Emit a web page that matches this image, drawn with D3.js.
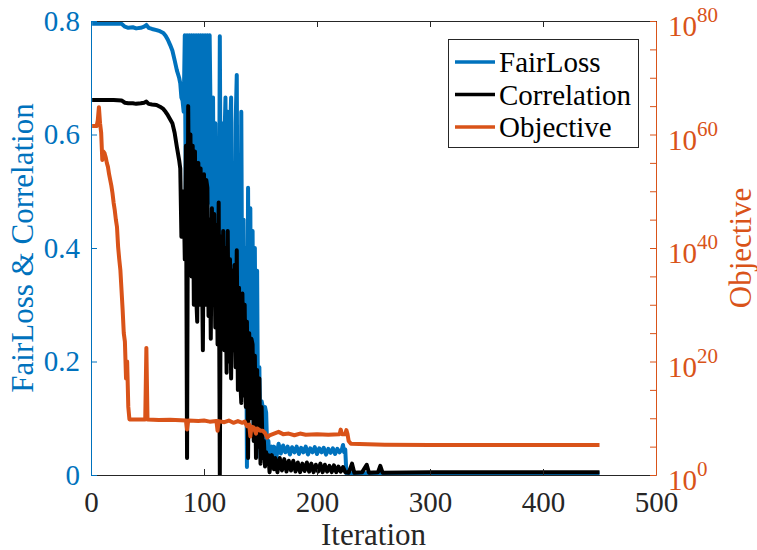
<!DOCTYPE html>
<html>
<head>
<meta charset="utf-8">
<script src="https://cdn.jsdelivr.net/npm/d3@7"></script>
<style>
  body { margin: 0; background: #fff; }
  svg { display: block; }
</style>
</head>
<body>
<svg width="757" height="550"></svg>
<script>
// values: [iteration, value]
var fairLoss = [
  [1,.795],[10,.795],[20,.795],[27,.795],[30,.790],[33,.788],[37,.789],[40,.787],[44,.788],[47,.790],
  [49,.793],[51,.788],[54,.786],[58,.784],[61,.782],[64,.779],[66,.774],[68,.767],[70,.758],[72,.748],
  [74,.731],[76,.713],[78,.700],[79,.690],[80,.665],[81,.66],
  [82,.64],[83,.775],[84,.45],[85,.775],[86,.60],[87,.775],[88,.42],[89,.775],[90,.50],[91,.775],
  [92,.55],[93,.775],[94,.38],[95,.775],[96,.45],[97,.775],[98,.35],[99,.775],[100,.52],[101,.775],
  [102,.40],[103,.775],[104,.48],[105,.775],[106,.60],[107,.40],[108,.665],[109,.30],[110,.62],[111,.35],
  [112,.55],[113,.28],[114,.773],[115,.35],[116,.62],[117,.30],[118,.58],[119,.665],[120,.25],[121,.64],
  [122,.30],[123,.60],[124,.665],[125,.22],[126,.55],[127,.26],[128,.62],[129,.705],[130,.22],[131,.50],
  [132,.18],[133,.64],[134,.20],[135,.45],[136,.16],[137,.40],[138,.014],[139,.506],[140,.12],[141,.47],
  [142,.10],[143,.43],[144,.08],[145,.40],[146,.05],[147,.36],[148,.05],[149,.19],[150,.03],[151,.13],
  [152,.12],[153,.03],[154,.12],[155,.11],[156,.04],[157,.06],[158,.02],[160,.05],[161,.015],[162,.05],
  [164,.03],[166,.055],[168,.038],[170,.052],[172,.04],[174,.05],[176,.036],[178,.049],[180,.04],[182,.05],
  [184,.037],[186,.048],[188,.04],[190,.05],[192,.036],[194,.047],[196,.04],[198,.049],[200,.037],[202,.047],
  [204,.04],[206,.048],[208,.036],[210,.046],[212,.039],[214,.047],[216,.037],[218,.046],[220,.04],[222,.045],
  [223,.053],[224,.04],[225,.045],[226,.003],[300,.003],[450,.003]
];

var correlation = [
  [1,.661],[10,.661],[20,.661],[27,.660],[30,.656],[33,.655],[37,.655],[40,.654],[44,.655],[47,.656],
  [49,.658],[51,.654],[54,.653],[58,.652],[61,.649],[64,.645],[66,.640],[68,.634],[70,.627],[72,.620],
  [74,.603],[76,.578],[78,.555],[79,.54],[80,.42],[81,.46],
  [82,.50],[83,.38],[84,.58],[85,.03],[86,.65],[87,.40],[88,.60],[89,.35],[90,.58],[91,.30],
  [92,.57],[93,.32],[94,.27],[95,.55],[96,.30],[97,.54],[98,.40],[99,.22],[100,.53],[101,.30],
  [102,.52],[103,.506],[104,.28],[105,.45],[106,.24],[107,.47],[108,.30],[109,.46],[110,.26],[111,.44],
  [112,.23],[113,.48],[114,0],[115,.42],[116,.25],[117,.43],[118,.22],[119,.40],[120,.18],[121,.43],
  [122,.20],[123,.38],[124,.17],[125,.36],[126,.22],[127,.37],[128,.19],[129,.396],[130,.15],[131,.33],
  [132,.17],[133,.127],[134,.32],[135,.14],[136,.30],[137,.12],[138,.27],[139,.03],[140,.25],[141,.10],
  [142,.24],[143,.23],[144,.06],[145,.21],[146,.03],[147,.185],[148,.05],[149,.17],[150,.02],[151,.12],
  [152,.03],[153,.06],[154,.015],[155,.04],[156,.02],[157,.035],[158,.005],[160,.035],[162,.01],[163,.03],
  [165,.005],[167,.03],[169,.008],[171,.028],[173,.006],[175,.025],[177,.008],[179,.025],[181,.006],[183,.022],
  [185,.005],[187,.02],[189,.007],[191,.022],[193,.006],[195,.02],[197,.005],[199,.018],[201,.006],[203,.02],
  [205,.005],[207,.018],[209,.006],[211,.016],[213,.005],[215,.017],[217,.005],[219,.015],[221,.006],[223,.014],
  [225,.005],[228,.004],[231,.02],[233,.004],[240,.005],[244,.018],[246,.004],[254,.005],[256,.016],[258,.004],
  [300,.005],[450,.005]
];

// objective as powers of ten
var objectiveExp = [
  [1,61.5],[5,61.5],[6,62.5],[7,64.8],[8,62],[9,60.3],[10,55.5],[11,57],[12,56.7],[13,56],
  [14,55],[15,54.3],[16,53],[17,52],[18,51],[19,49.7],[20,48],[21,46.7],[22,45],[23,43.7],
  [24,40.2],[25,38],[26,36.1],[27,32.6],[28,29.1],[29,25],[30,23.5],[31,17],[32,20],[33,12],
  [34,9.8],[48,9.8],[49,22.4],[50,9.8],[60,9.7],[70,9.75],[84,9.6],[85,8.0],[86,9.6],[95,9.5],
  [100,9.6],[105,9.4],[111,9.5],[112,7.8],[113,9.5],[118,9.3],[122,9.6],[126,9.2],[130,9.5],[134,9.2],
  [136,9.4],[138,8.6],[140,8.9],[141,6.8],[142,8.5],[144,8.4],[146,7.3],[147,8.2],[150,7.8],[152,7.8],
  [154,7.4],[156,6.6],[158,7.0],[162,7.3],[166,7.6],[170,7.2],[175,7.3],[180,7.0],[185,7.3],[190,7.1],
  [200,7.2],[210,7.1],[220,7.2],[221,8.0],[222,7.2],[225,7.2],[226,7.9],[227,7.2],[228,6.0],[230,5.5],
  [260,5.35],[300,5.3],[450,5.3]
];

var xTicks = [0, 100, 200, 300, 400, 500];
var leftTicks = [0, 0.2, 0.4, 0.6, 0.8];
var rightMinorExp = [0,5,10,15,20,25,30,35,40,45,50,55,60,65,70,75,80];
var rightLabelExp = [0, 20, 40, 60, 80];
var legendNames = ["FairLoss", "Correlation", "Objective"];

var blue = "#0072BD", orange = "#D95319", dark = "#262626";
var pL = 91, pR = 656, pT = 21, pB = 475;
var serif = "Liberation Serif";

var svg = d3.select("svg");

var x = d3.scaleLinear().domain([0, 500]).range([pL, pR]);
var yL = d3.scaleLinear().domain([0, 0.8]).range([pB, pT]);
var yR = d3.scaleLog().domain([1, 1e80]).range([pB, pT]);

svg.append("clipPath").attr("id", "plot")
  .append("rect").attr("x", pL).attr("y", pT).attr("width", pR - pL).attr("height", pB - pT);

var lineL = d3.line().x(d => x(d[0])).y(d => yL(d[1]));
var lineR = d3.line().x(d => x(d[0])).y(d => yR(Math.pow(10, d[1])));

var g = svg.append("g").attr("clip-path", "url(#plot)");
[[fairLoss, blue, lineL], [correlation, "#000", lineL], [objectiveExp, orange, lineR]].forEach(s => {
  g.append("path").datum(s[0])
    .attr("d", s[2])
    .attr("fill", "none")
    .attr("stroke", s[1])
    .attr("stroke-width", 4)
    .attr("stroke-linejoin", "round");
});

// axes
var xb = svg.append("g").attr("transform", "translate(0," + pB + ")")
  .call(d3.axisBottom(x).tickValues(xTicks).tickSize(-6).tickSizeOuter(0).tickPadding(16));
xb.selectAll("text").attr("font-size", 29).attr("fill", dark);

var xt = svg.append("g").attr("transform", "translate(0," + pT + ")")
  .call(d3.axisTop(x).tickValues(xTicks).tickSize(-6).tickSizeOuter(0).tickFormat(""));
[xb, xt].forEach(a => { a.selectAll("path, line").attr("stroke", dark); });

var yl = svg.append("g").attr("transform", "translate(" + pL + ",0)")
  .call(d3.axisLeft(yL).tickValues(leftTicks).tickSize(-6).tickSizeOuter(0).tickPadding(11)
    .tickFormat(d => d === 0 ? "0" : d.toFixed(1)));
yl.selectAll("path, line").attr("stroke", blue);
yl.selectAll("text").attr("font-size", 29).attr("fill", blue);

var yr = svg.append("g").attr("transform", "translate(" + pR + ",0)")
  .call(d3.axisRight(yR).tickValues(rightMinorExp.map(e => Math.pow(10, e))).tickSize(-6).tickSizeOuter(0).tickFormat(""));
yr.selectAll("path, line").attr("stroke", orange);

var rl = svg.append("g").selectAll("text").data(rightLabelExp).enter().append("text")
  .attr("x", 668)
  .attr("y", d => yR(Math.pow(10, d)) + 15)
  .attr("fill", orange)
  .attr("font-size", 29);
rl.append("tspan").text("10");
rl.append("tspan").attr("font-size", 21).attr("dy", -14).text(d => d);

// axis titles
svg.append("text").attr("x", (pL + pR) / 2).attr("y", 545)
  .attr("text-anchor", "middle").attr("font-size", 31).attr("fill", dark).text("Iteration");
svg.append("text").attr("transform", "translate(33," + (pT + pB) / 2 + ") rotate(-90)")
  .attr("text-anchor", "middle").attr("font-size", 31).attr("fill", blue).text("FairLoss & Correlation");
svg.append("text").attr("transform", "translate(751," + (pT + pB) / 2 + ") rotate(-90)")
  .attr("text-anchor", "middle").attr("font-size", 31).attr("fill", orange).text("Objective");

// legend
var lg = svg.append("g");
lg.append("rect").attr("x", 448.5).attr("y", 39.5).attr("width", 190).attr("height", 108)
  .attr("fill", "#fff").attr("stroke", dark).attr("stroke-width", 1);
var legColors = [blue, "#000", orange];
var item = lg.selectAll("g.item").data(legendNames).enter().append("g")
  .attr("transform", (d, i) => "translate(0," + (62 + i * 32.5) + ")");
item.append("line").attr("x1", 455).attr("x2", 495).attr("y1", 0).attr("y2", 0)
  .attr("stroke", (d, i) => legColors[i]).attr("stroke-width", 3.5);
item.append("text").attr("x", 499).attr("y", 10).attr("font-size", 29).attr("fill", "#000").text(d => d);

svg.selectAll("g").attr("font-family", null);
svg.selectAll("text").style("font-family", serif);
</script>
</body>
</html>
